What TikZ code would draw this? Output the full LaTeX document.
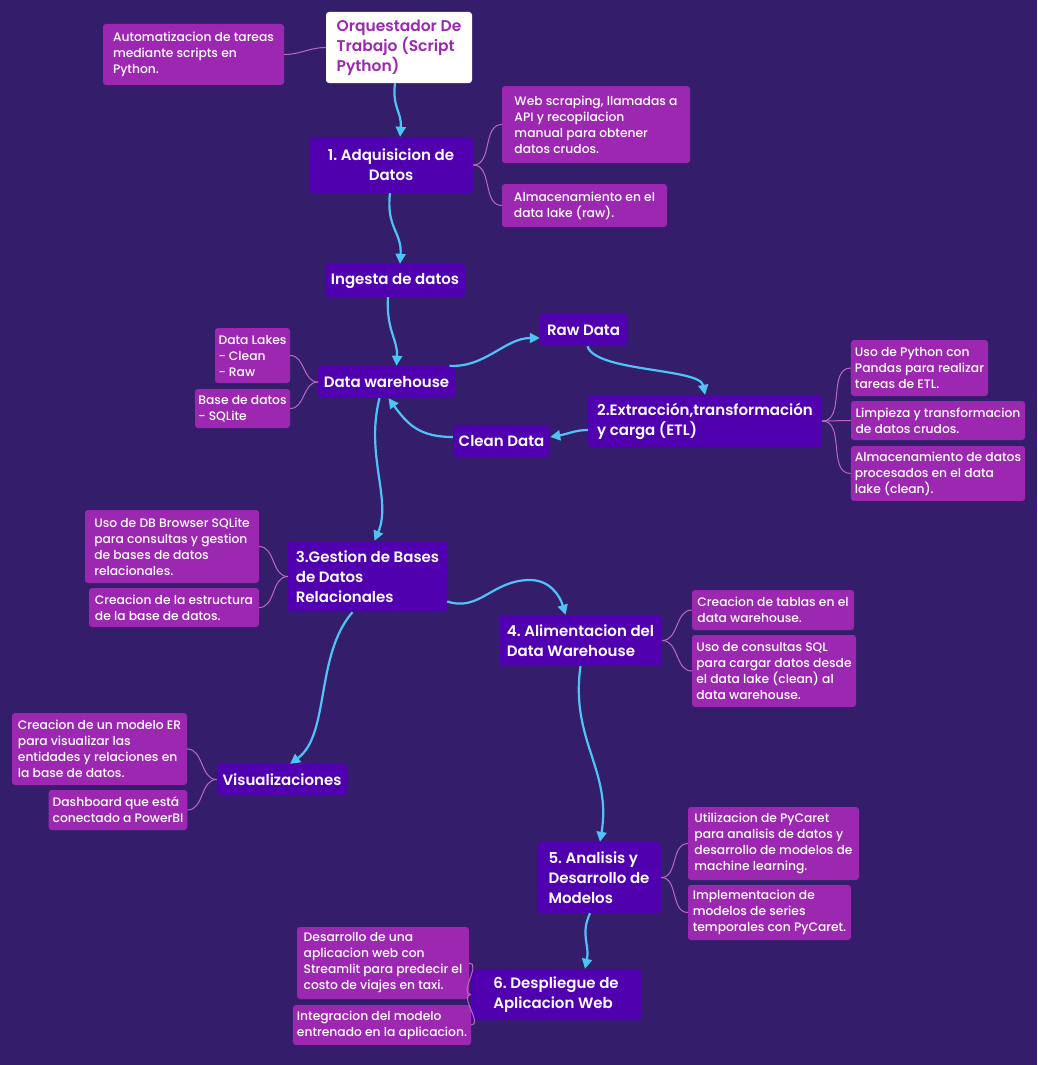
\documentclass[tikz,border=0pt]{standalone}
\usepackage{fontspec}
\setmainfont{Poppins}
\IfFontExistsTF{Poppins SemiBold}{\newfontfamily\mainfnt{Poppins SemiBold}}{\newfontfamily\mainfnt{Poppins}[FakeBold=1.2]}
\IfFontExistsTF{Poppins Medium}{\newfontfamily\subfnt{Poppins Medium}}{\newfontfamily\subfnt{Poppins}[FakeBold=0.6]}
\usetikzlibrary{arrows.meta}
\definecolor{bgcol}{RGB}{52,30,107}
\definecolor{mainfill}{RGB}{80,0,175}
\definecolor{subfill}{RGB}{156,39,176}
\definecolor{flowblue}{RGB}{79,195,247}
\definecolor{branchpink}{RGB}{186,104,200}
\tikzset{
  box/.style 2 args={minimum width=#1pt, minimum height=#2pt},
  mainbox/.style={fill=mainfill, rounded corners=3pt, text=white, inner xsep=5pt, inner ysep=2pt,
    font=\mainfnt\fontsize{15}{20}\selectfont, align=left},
  subbox/.style={fill=subfill, rounded corners=3pt, text=white, inner xsep=4pt, inner ysep=2pt,
    font=\subfnt\fontsize{12.3}{16}\selectfont, align=left},
  topbox/.style={fill=white, rounded corners=3pt, text=subfill, inner xsep=5pt, inner ysep=2pt,
    font=\mainfnt\fontsize{15.5}{20}\selectfont, align=left},
  flow/.style={draw=flowblue, line width=2.2pt, -{Triangle[length=10pt,width=10pt]}},
  branch/.style={draw=branchpink, line width=1pt},
}
\frenchspacing
\begin{document}
\begin{tikzpicture}[x=1pt,y=1pt,yscale=-1]
\fill[bgcol] (0,0) rectangle (1037,1065);
\useasboundingbox (0,0) rectangle (1037,1065);
%Main nodes
\node[topbox, box={146}{71}] (orq) at (399,47.5) {Orquestador De\\Trabajo (Script\\Python)};
\node[mainbox, box={164}{56}, align=center] (adq) at (391,165) {1. Adquisicion de\\Datos};
\node[mainbox, box={140}{33}, align=center] (ingesta) at (395,280.5) {Ingesta de datos};
\node[mainbox, box={137}{32}, align=center] (dw) at (386.5,382) {Data warehouse};
\node[mainbox, box={87}{32}, align=center] (raw) at (583.5,330) {Raw Data};
\node[mainbox, box={234}{52}] (etl) at (705,421) {2.Extracción,transformación\\y carga (ETL)};
\node[mainbox, box={97}{32}, align=center] (clean) at (501.5,441) {Clean Data};
\node[mainbox, box={159}{71}] (gestion) at (367.5,576.5) {3.Gestion de Bases\\de Datos\\Relacionales};
\node[mainbox, box={163}{51}] (alim) at (580.5,640.5) {4. Alimentacion del\\Data Warehouse};
\node[mainbox, box={130}{31}, align=center] (visual) at (282,779.5) {Visualizaciones};
\node[mainbox, box={124}{71}] (analisis) at (599,877.5) {5. Analisis y\\Desarrollo de\\Modelos};
\node[mainbox, box={170}{51}] (despliegue) at (556,994.5) {6. Despliegue de\\Aplicacion Web};
%Sub nodes
\node[subbox, box={181}{61}] (autom) at (193.5,54.5) {Automatizacion de tareas\\mediante scripts en\\Python.};
\node[subbox, box={188}{77}] (web) at (596,124.5) {Web scraping, llamadas a\\API y recopilacion\\manual para obtener\\datos crudos.};
\node[subbox, box={165}{43}] (almraw) at (584.5,205.5) {Almacenamiento en el\\data lake (raw).};
\node[subbox, box={75}{55}, inner xsep=2pt] (lakes) at (252.5,355.5) {Data Lakes\\- Clean\\- Raw};
\node[subbox, box={95}{39}, inner xsep=2pt] (basedatos) at (242.5,408.5) {Base de datos\\- SQLite};
\node[subbox, box={137}{56}] (python) at (919.5,368) {Uso de Python con\\Pandas para realizar\\tareas de ETL.};
\node[subbox, box={174}{39}] (limpieza) at (938,420.5) {Limpieza y transformacion\\de datos crudos.};
\node[subbox, box={174}{55}] (almclean) at (938,473.5) {Almacenamiento de datos\\procesados en el data\\lake (clean).};
\node[subbox, box={174}{73}] (usodb) at (172,546.5) {Uso de DB Browser SQLite\\para consultas y gestion\\de bases de datos\\relacionales.};
\node[subbox, box={170}{39}] (estructura) at (174,607.5) {Creacion de la estructura\\de la base de datos.};
\node[subbox, box={162}{40}] (tablas) at (773,610) {Creacion de tablas en el\\data warehouse.};
\node[subbox, box={164}{72}] (sql) at (774,671) {Uso de consultas SQL\\para cargar datos desde\\el data lake (clean) al\\data warehouse.};
\node[subbox, box={175}{72}] (er) at (99.5,749) {Creacion de un modelo ER\\para visualizar las\\entidades y relaciones en\\la base de datos.};
\node[subbox, box={138}{40}] (dash) at (118,810) {Dashboard que está\\conectado a PowerBI};
\node[subbox, box={171}{73}] (pycaret) at (773.5,843.5) {Utilizacion de PyCaret\\para analisis de datos y\\desarrollo de modelos de\\machine learning.};
\node[subbox, box={163}{55}] (impl) at (769.5,912.5) {Implementacion de\\modelos de series\\temporales con PyCaret.};
\node[subbox, box={172}{72}] (desarrollo) at (383,963) {Desarrollo de una\\aplicacion web con\\Streamlit para predecir el\\costo de viajes en taxi.};
\node[subbox, box={174}{40}] (integracion) at (382,1025) {Integracion del modelo\\entrenado en la aplicacion.};
%Branches
\draw[branch] (orq.west) to[out=180,in=0] (autom.east);
\draw[branch] (adq.east) to[out=0,in=180] (web.west);
\draw[branch] (adq.east) to[out=0,in=180] (almraw.west);
\draw[branch] (dw.west) to[out=180,in=0] (lakes.east);
\draw[branch] (dw.west) to[out=180,in=0] (basedatos.east);
\draw[branch] (etl.east) to[out=0,in=180] (python.west);
\draw[branch] (etl.east) to[out=0,in=180] (limpieza.west);
\draw[branch] (etl.east) to[out=0,in=180] (almclean.west);
\draw[branch] (gestion.west) to[out=180,in=0] (usodb.east);
\draw[branch] (gestion.west) to[out=180,in=0] (estructura.east);
\draw[branch] (alim.east) to[out=0,in=180] (tablas.west);
\draw[branch] (alim.east) to[out=0,in=180] (sql.west);
\draw[branch] (visual.west) to[out=180,in=0] (er.east);
\draw[branch] (visual.west) to[out=180,in=0] (dash.east);
\draw[branch] (analisis.east) to[out=0,in=180] (pycaret.west);
\draw[branch] (analisis.east) to[out=0,in=180] (impl.west);
\draw[branch] (despliegue.west) to[out=180,in=0] (desarrollo.east);
\draw[branch] (despliegue.west) to[out=180,in=0] (integracion.east);
%Flow arrows
\draw[flow] ([xshift=-4pt]orq.south) .. controls (392,108) and (402,112) .. ([xshift=9pt]adq.north);
\draw[flow] ([xshift=-1pt]adq.south) .. controls (386,228) and (402,232) .. ([xshift=5pt]ingesta.north);
\draw[flow] ([xshift=-7pt]ingesta.south) .. controls (386,330) and (398,340) .. ([xshift=10pt]dw.north);
\draw[flow] ([xshift=63pt]dw.north) .. controls (485,368) and (505,338) .. ([yshift=8pt]raw.west);
\draw[flow] ([xshift=4pt]raw.south) .. controls (595,372) and (700,368) .. (etl.north);
\draw[flow] ([yshift=9pt]etl.west) .. controls (575,430) and (568,434) .. ([yshift=-4pt]clean.east);
\draw[flow] ([yshift=-4pt]clean.west) .. controls (420,437) and (408,425) .. ([xshift=2pt]dw.south);
\draw[flow] ([xshift=-7pt]dw.south) .. controls (365,455) and (392,500) .. ([xshift=7pt]gestion.north);
\draw[flow] ([yshift=25pt]gestion.east) .. controls (480,612) and (492,580) .. (530,580) .. controls (550,580) and (560,596) .. ([xshift=-15pt]alim.north);
\draw[flow] ([xshift=-15pt]gestion.south) .. controls (315,655) and (330,735) .. ([xshift=8pt]visual.north);
\draw[flow] (alim.south) .. controls (570,740) and (612,770) .. ([xshift=1pt]analisis.north);
\draw[flow] ([xshift=-9pt]analisis.south) .. controls (580,935) and (590,945) .. ([xshift=29pt]despliegue.north);
\end{tikzpicture}
\end{document}
